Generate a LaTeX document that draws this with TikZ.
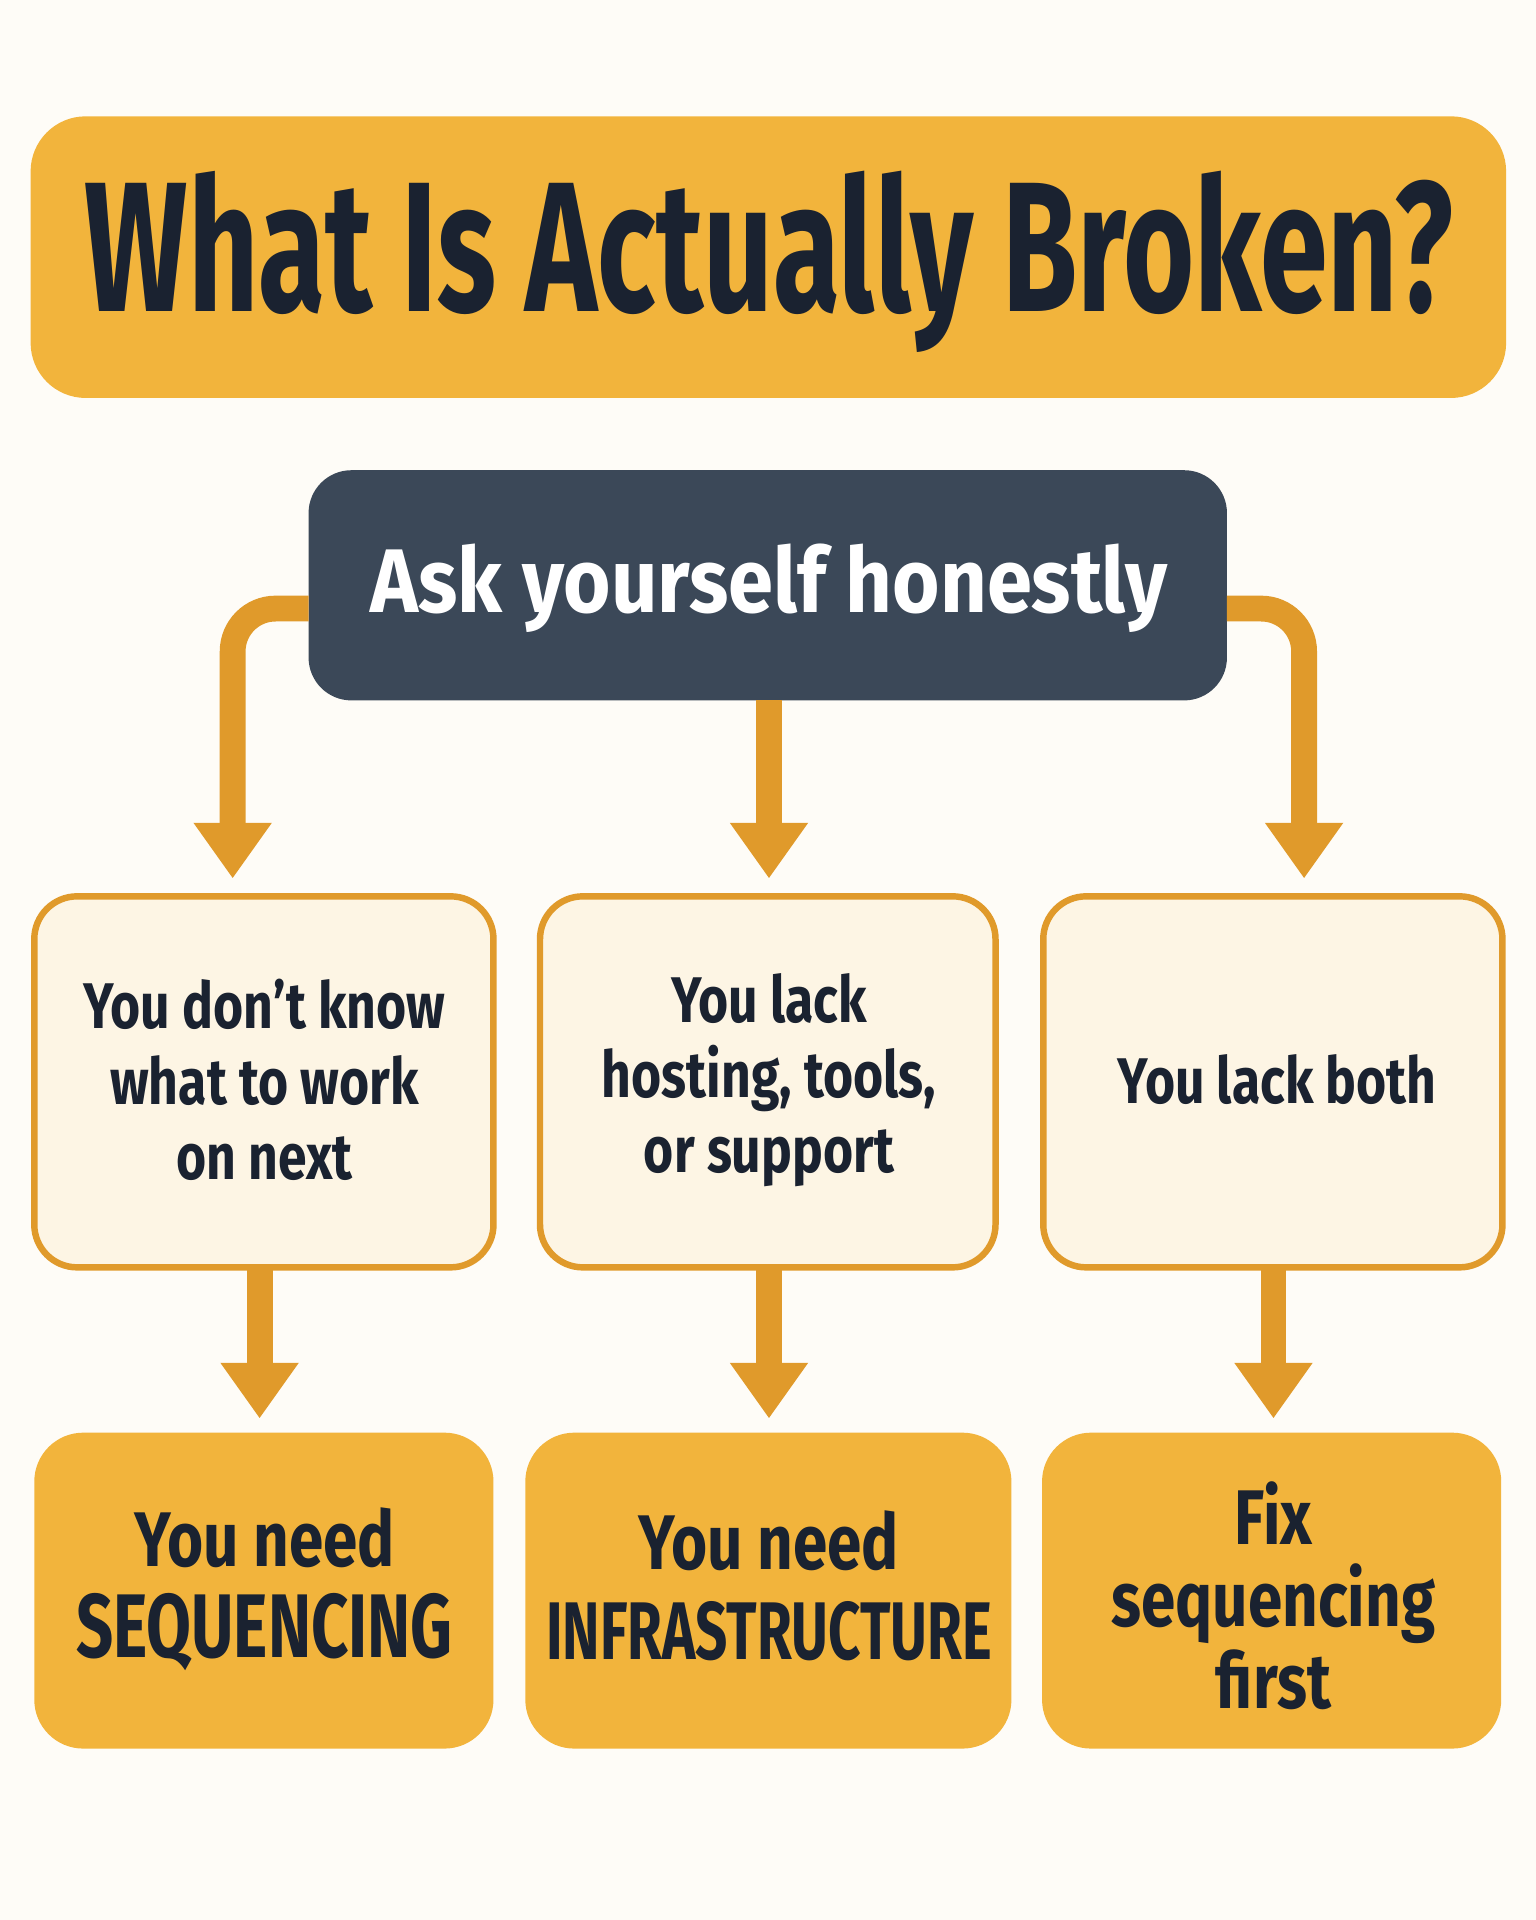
\documentclass[tikz,border=0pt]{standalone}
\usepackage{fontspec}
\setmainfont{Fira Sans}
\usepackage{graphicx}
\definecolor{bg}{HTML}{FEFCF7}
\definecolor{gold}{HTML}{F2B43C}
\definecolor{arr}{HTML}{E09A2B}
\definecolor{navy}{HTML}{3B4858}
\definecolor{ink}{HTML}{1A2230}
\definecolor{cream}{HTML}{FDF5E4}
\newcommand{\cond}[1]{\scalebox{0.8}[1]{#1}}
\begin{document}
\begin{tikzpicture}[x=0.02cm,y=-0.02cm,
  gbox/.style={fill=gold,rounded corners=0.8cm},
  cbox/.style={fill=cream,draw=arr,line width=3pt,rounded corners=0.7cm},
  ar/.style={draw=arr,line width=12pt,rounded corners=0.7cm},
  head/.style={fill=arr},
  txt/.style={text=ink,font=\bfseries,align=center}]
\fill[bg] (0,0) rectangle (1254,1568);
\useasboundingbox (0,0) rectangle (1254,1568);
% title
\path[gbox,rounded corners=0.9cm] (25,95) rectangle (1230,325);
\node[txt,font=\fontsize{86}{90}\selectfont\bfseries] (title) at (628,214) {\scalebox{0.66}[1]{What Is Actually Broken?}};
% ask
\path[fill=navy,rounded corners=0.7cm] (252,384) rectangle (1002,572);
\node[text=white,font=\fontsize{42}{44}\selectfont\bfseries] (ask) at (628,480) {\scalebox{0.9}[1]{Ask yourself honestly}};
% connectors
\coordinate (l0) at (252,497); \coordinate (l1) at (190,672);
\coordinate (c0) at (628,572); \coordinate (c1) at (628,674);
\coordinate (r0) at (1002,497); \coordinate (r1) at (1065,672);
\draw[ar] (l0) -- (190,497) -- (l1);
\draw[ar] (c0) -- (c1);
\draw[ar] (r0) -- (1065,497) -- (r1);
\fill[head] (158,672) -- (222,672) -- (190,717) -- cycle;
\fill[head] (596,672) -- (660,672) -- (628,717) -- cycle;
\fill[head] (1033,672) -- (1097,672) -- (1065,717) -- cycle;
% middle boxes
\path[cbox] (28,732) rectangle (403,1035);
\path[cbox] (441,732) rectangle (813,1035);
\path[cbox] (852,732) rectangle (1227,1035);
\node[txt,font=\fontsize{30}{35}\selectfont\bfseries] (m1) at (216,882) {\cond{You don’t know}\\\cond{what to work}\\\cond{on next}};
\node[txt,font=\fontsize{30}{35}\selectfont\bfseries] (m2) at (628,882) {\cond{You lack}\\\cond{hosting, tools,}\\\cond{or support}};
\node[txt,font=\fontsize{30}{35}\selectfont\bfseries] (m3) at (1043,882) {\cond{You lack both}};
% second arrows
\foreach \x/\n in {212/a,628/b,1040/c}{
  \draw[ar] (\x,1037) -- (\x,1115);
  \fill[head] (\x-32,1113) -- (\x+32,1113) -- (\x,1158) -- cycle;}
% bottom boxes
\path[gbox] (28,1170) rectangle (403,1428);
\path[gbox] (429,1170) rectangle (826,1428);
\path[gbox] (851,1170) rectangle (1226,1428);
\node[txt,font=\fontsize{36}{42}\selectfont\bfseries] (b1) at (216,1298) {\cond{You need}\\\fontsize{42}{42}\selectfont\scalebox{0.72}[1]{SEQUENCING}};
\node[txt,font=\fontsize{36}{42}\selectfont\bfseries] (b2) at (628,1295) {\cond{You need}\\\fontsize{38}{40}\selectfont\scalebox{0.69}[1]{INFRASTRUCTURE}};
\node[txt,font=\fontsize{36}{38}\selectfont\bfseries] (b3) at (1040,1303) {\cond{Fix}\\\cond{sequencing}\\\cond{first}};
\end{tikzpicture}
\end{document}
